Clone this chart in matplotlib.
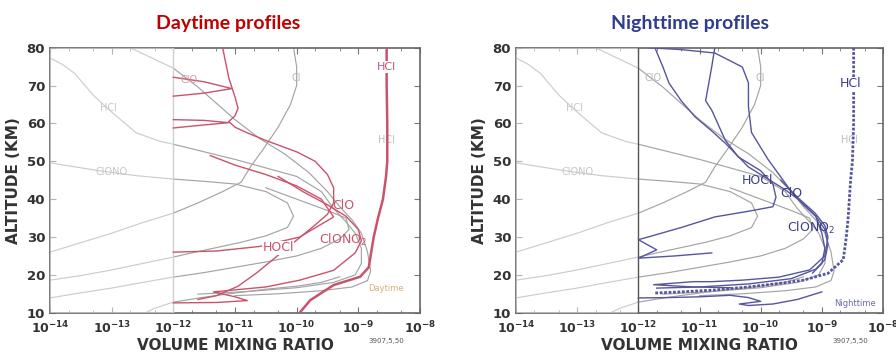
import matplotlib
matplotlib.use("Agg")
import matplotlib.pyplot as plt
import numpy as np

# values: log10(volume mixing ratio), altitude in km
alt_ticks = [10, 20, 30, 40, 50, 60, 70, 80]
vmr_ticks = [-14, -13, -12, -11, -10, -9, -8]

# gray profiles, drawn in both panels
g_top_x = [-14, -13.8, -13.6, -13.3, -13.0, -12.6, -12.2, -12.0, -11.0, -10.0, -9.6, -9.4, -9.2, -9.05, -8.95, -8.95, -9.05, -9.4, -10.0, -10.8, -11.6]
g_top_y = [77.3, 75.6, 73.2, 67.5, 63.0, 57.5, 55.2, 54.5, 50.5, 46.0, 42.0, 37.5, 34.0, 31.0, 27.0, 23.0, 20.0, 18.0, 16.6, 15.6, 14.9]
g_mid_x = [-12.7, -12.0, -11.6, -11.0, -10.6, -10.2, -9.8, -9.5, -9.3, -9.1, -8.95, -8.85, -8.8, -8.85, -9.1, -9.6, -10.3, -11.0]
g_mid_y = [80.0, 74.6, 69.6, 61.0, 56.0, 52.0, 47.0, 42.0, 38.0, 34.5, 31.0, 26.0, 21.0, 18.5, 16.8, 15.8, 15.0, 14.5]
g_clono2_x = [-14, -13.7, -13.2, -12.6, -12.0, -11.5, -11.0, -10.5, -10.15, -10.05, -10.15, -10.5, -10.9, -11.5, -12.0, -12.5, -13.0, -13.5, -14]
g_clono2_y = [49.6, 48.8, 47.5, 46.2, 45.3, 44.7, 44.0, 42.0, 39.0, 35.5, 32.5, 30.3, 28.6, 26.5, 24.7, 23.0, 21.3, 19.8, 18.6]
g_cl_x = [-14, -13.5, -13.0, -12.5, -12.0, -11.6, -11.2, -10.9, -10.75, -10.55, -10.3, -10.1, -10.0, -10.0, -10.05]
g_cl_y = [26.0, 28.5, 31.0, 33.8, 36.3, 39.0, 42.0, 44.5, 48.5, 53.0, 59.0, 65.0, 70.0, 75.0, 80.0]
g_low_x = [-14, -13.6, -13.0, -12.5, -12.0, -11.5, -11.0, -10.5, -10.0, -9.6, -9.3, -9.15, -9.2, -9.5, -10.0, -10.5]
g_low_y = [13.9, 15.0, 16.5, 18.0, 19.4, 20.6, 22.0, 23.4, 25.0, 27.0, 29.5, 32.0, 35.0, 37.0, 40.0, 43.0]
g_bot_x = [-12.45, -12.3, -12.0, -11.5, -11.0, -10.5, -10.0, -9.6, -9.3]
g_bot_y = [10.0, 11.2, 12.8, 14.1, 15.2, 16.2, 17.0, 18.0, 19.5]

# daytime profiles (red)
d_hcl_x = [-8.54, -8.54, -8.53, -8.53, -8.55, -8.6, -8.68, -8.75, -8.8, -8.83, -8.97, -9.4, -9.78, -9.95]
d_hcl_y = [80, 70, 60, 50, 46, 40, 35, 30, 25, 22, 19.5, 17.3, 13.3, 10]
d_clo_x = [-11.2, -11.15, -11.1, -11.05, -11.0, -10.95, -11.0, -11.1, -11.0, -10.8, -10.5, -10.0, -9.7, -9.5, -9.4, -9.4, -9.5, -9.75, -10.05, -10.35, -10.65, -10.95, -11.3, -11.6]
d_clo_y = [80, 76, 72, 69.5, 67, 64, 62, 60.5, 59, 57.5, 55.5, 52.5, 50, 46.5, 43, 39, 36, 32.5, 28.5, 24.5, 20.5, 17, 14.5, 13.5]
d_spike1_x = [-12.0, -11.5, -11.05, -11.5, -12.0]
d_spike1_y = [72.2, 71.0, 69.2, 68.0, 67.2]
d_spike2_x = [-12.0, -11.5, -11.1, -11.5, -12.0]
d_spike2_y = [61.0, 60.8, 60.2, 59.6, 58.8]
d_hocl_x = [-12.0, -11.3, -10.6, -9.95, -9.4, -9.6, -10.0, -10.5, -11.0, -11.4]
d_hocl_y = [26.0, 26.3, 27.5, 30.0, 35.3, 40.0, 43.5, 46.5, 49.0, 51.5]
d_clono2_x = [-10.3, -9.9, -9.5, -9.2, -9.0, -8.95, -9.05, -9.4, -9.95, -10.5, -11.35, -11.0, -10.8, -11.3, -12.0]
d_clono2_y = [46.0, 42.0, 38.5, 35.5, 32.0, 29.0, 25.8, 21.2, 18.6, 16.8, 15.5, 14.2, 13.2, 12.7, 12.6]

# nighttime profiles (blue)
n_hcl_x = [-8.48, -8.48, -8.48, -8.5, -8.53, -8.55, -8.57, -8.6, -8.65, -8.9, -9.3, -9.67, -10.2, -10.75, -11.3, -11.73]
n_hcl_y = [80, 70, 60, 50, 45, 40, 35, 30, 24, 20.4, 18.6, 17.8, 16.8, 16.0, 15.5, 15.2]
n_hocl_x = [-11.84, -11.3, -10.75, -10.3, -10.2, -10.2, -10.15, -9.88, -9.7, -9.5, -9.3, -9.1, -8.95, -8.9, -8.95, -9.1, -9.5, -10.2, -11.0, -11.7]
n_hocl_y = [80, 79.5, 78.6, 74.9, 70.7, 64.4, 57.6, 50.5, 46.5, 42, 38.5, 35.5, 32, 28, 24, 21.5, 19, 17.6, 16.8, 16.5]
n_clo_x = [-10.75, -10.8, -10.9, -10.8, -10.58, -10.37, -10.0, -9.8, -9.75, -9.8, -10.2, -10.75, -11.3, -11.84, -12.0, -11.7, -12.0, -11.4, -10.8]
n_clo_y = [80, 75, 66, 63.5, 55.6, 51.2, 47.5, 44.0, 40.5, 38.0, 36.8, 35.3, 32.5, 30.0, 29.3, 26.6, 24.4, 25.0, 25.8]
n_third_x = [-11.73, -11.6, -11.5, -11.3, -11.07, -10.8, -10.58, -10.2, -9.9, -9.6, -9.35, -9.1, -9.0, -8.95, -9.0, -9.15]
n_third_y = [80, 75, 70.7, 66, 61.7, 58, 54.8, 48.5, 45.5, 42.5, 39.5, 35.5, 31, 27, 23, 20.5]
n_clono2_x = [-9.67, -9.4, -9.11, -8.95, -8.9, -8.95, -9.2, -9.7, -10.3, -10.8, -11.1, -11.75, -11.1, -10.5]
n_clono2_y = [45.0, 40.5, 36.3, 33.0, 30.0, 25.0, 21.3, 19.4, 18.6, 18.2, 18.2, 17.4, 16.8, 16.6]
n_bot_x = [-12.0, -11.5, -11.0, -10.5, -10.2, -10.0, -10.35, -10.2, -9.8, -9.4, -9.0]
n_bot_y = [13.9, 14.0, 14.2, 14.6, 14.0, 13.0, 12.3, 11.9, 12.3, 13.5, 15.5]

red = "#c9536b"
blue = "#56569e"
gray = "#a4a4a4"


def L(v):
    return 10.0 ** np.array(v, dtype=float)


def frame(ax, vline_color):
    ax.set_xscale("log")
    ax.set_xlim(1e-14, 1e-8)
    ax.set_ylim(10, 80)
    ax.set_xticks(L(vmr_ticks))
    ax.set_xticklabels([r"$\mathbf{10^{%d}}$" % t for t in vmr_ticks], fontsize=9, color="#333333")
    ax.set_yticks(alt_ticks)
    ax.set_yticklabels([str(t) for t in alt_ticks], fontsize=9.5, fontweight="bold", color="#333333")
    ax.tick_params(which="both", direction="in", top=True, right=True, color="#777777")
    ax.tick_params(which="major", length=4)
    ax.tick_params(axis="x", which="major", pad=5)
    ax.tick_params(which="minor", length=2)
    ax.xaxis.set_minor_locator(matplotlib.ticker.LogLocator(base=10, subs=(2, 5), numticks=20))
    ax.set_xlabel("VOLUME MIXING RATIO", fontsize=11, fontweight="bold", color="#333333", labelpad=1)
    ax.set_ylabel("ALTITUDE (KM)", fontsize=11, fontweight="bold", color="#333333", labelpad=4)
    for s in ax.spines.values():
        s.set_color("#666666")
        s.set_linewidth(1.2)
    for xs, ys in [(g_top_x, g_top_y), (g_mid_x, g_mid_y), (g_clono2_x, g_clono2_y),
                   (g_cl_x, g_cl_y), (g_low_x, g_low_y), (g_bot_x, g_bot_y)]:
        ax.plot(L(xs), ys, color=gray, lw=0.85, zorder=2)
    ax.axvspan(1e-14, 1e-12, color="white", alpha=0.45, lw=0, zorder=3)
    ax.axvline(1e-12, color=vline_color, lw=1.0, zorder=4)
    ax.text(L(-13.05), 64, "HCl", color="#c8c8c8", fontsize=7, ha="center", va="center", zorder=5)
    ax.text(L(-13.0), 47.2, "ClONO", color="#c8c8c8", fontsize=7, ha="center", va="center", zorder=5)
    ax.text(L(-10.0), 72, "Cl", color="#b8b8b8", fontsize=7, ha="center", va="center", zorder=5)
    ax.text(L(-8.55), 55.6, "HCl", color="#c0c0c0", fontsize=7, ha="center", va="center", zorder=5)
    ax.text(0.91, -0.105, "3907,5,50", fontsize=5, color="#555555", ha="center", va="center",
            transform=ax.transAxes, clip_on=False)


fig = plt.figure(figsize=(8.96, 3.56), dpi=100)
ax1 = fig.add_axes([0.0558, 0.1216, 0.4129, 0.7444])
ax2 = fig.add_axes([0.5759, 0.1216, 0.4096, 0.7444])

frame(ax1, "#cfcfcf")
frame(ax2, "#555555")

# daytime panel
ax1.plot(L(d_hcl_x), d_hcl_y, color=red, lw=1.8, zorder=6)
for xs, ys in [(d_clo_x, d_clo_y), (d_spike1_x, d_spike1_y), (d_spike2_x, d_spike2_y),
               (d_hocl_x, d_hocl_y), (d_clono2_x, d_clono2_y)]:
    ax1.plot(L(xs), ys, color=red, lw=1.0, zorder=6)
ax1.text(L(-8.54), 74.9, "HCl", color=red, fontsize=8, ha="center", va="center", zorder=7,
         bbox=dict(fc="white", ec="none", pad=0.5))
ax1.text(L(-9.25), 38.4, "ClO", color=red, fontsize=9, ha="center", va="center", zorder=7)
ax1.text(L(-9.25), 29.2, r"ClONO$_2$", color=red, fontsize=9, ha="center", va="center", zorder=7)
ax1.text(L(-10.3), 27.1, "HOCl", color=red, fontsize=9, ha="center", va="center", zorder=7,
         bbox=dict(fc="white", ec="none", pad=0.3))
ax1.text(L(-11.75), 71.5, "ClO", color="#d59aa6", fontsize=7, ha="center", va="center", zorder=7)
ax1.text(L(-8.55), 16.5, "Daytime", color="#d8b07a", fontsize=6, ha="center", va="center", zorder=7)
fig.text(0.255, 0.935, "Daytime profiles", color="#c00000", fontsize=14, fontweight="bold",
         family="Lato", ha="center", va="center")

# nighttime panel
ax2.plot(L(n_hcl_x), n_hcl_y, color=blue, lw=2.0, ls=(0, (1, 0.6)), zorder=6)
for xs, ys in [(n_hocl_x, n_hocl_y), (n_clo_x, n_clo_y), (n_third_x, n_third_y),
               (n_clono2_x, n_clono2_y), (n_bot_x, n_bot_y)]:
    ax2.plot(L(xs), ys, color=blue, lw=1.0, zorder=6)
ax2.text(L(-8.53), 70.5, "HCl", color="#3c3c8a", fontsize=9, ha="center", va="center", zorder=7,
         bbox=dict(fc="white", ec="none", pad=0.3))
ax2.text(L(-10.05), 45.0, "HOCl", color="#3c3c8a", fontsize=9, ha="center", va="center", zorder=7)
ax2.text(L(-9.5), 41.6, "ClO", color="#3c3c8a", fontsize=9, ha="center", va="center", zorder=7)
ax2.text(L(-9.18), 32.3, r"ClONO$_2$", color="#3c3c8a", fontsize=9, ha="center", va="center", zorder=7)
ax2.text(L(-11.76), 72, "ClO", color="#b8b8b8", fontsize=7, ha="center", va="center", zorder=7)
ax2.text(L(-8.46), 12.5, "Nighttime", color="#6a6ab0", fontsize=6, ha="center", va="center", zorder=7)
fig.text(0.77, 0.935, "Nighttime profiles", color="#2e3d8f", fontsize=14, fontweight="bold",
         family="Lato", ha="center", va="center")

fig.savefig("out.png", dpi=100)
